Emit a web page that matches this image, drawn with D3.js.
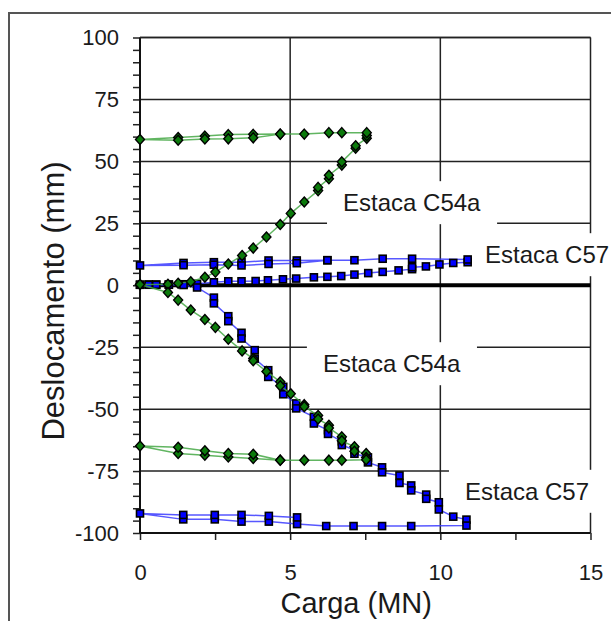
<!DOCTYPE html>
<html>
<head>
<meta charset="utf-8">
<script src="https://cdn.jsdelivr.net/npm/d3@7/dist/d3.min.js"></script>
<style>
  body { margin: 0; background: #fff; }
  text { font-family: "Liberation Sans", Arial, sans-serif; fill: #1a1a1a; }
</style>
</head>
<body>
<div id="chart"></div>
<script>
// load (MN) vs displacement (mm)
// top of pile (positive) and pile base (negative)
var c54aTop = [
  [0, 0.3], [0.93, 0.4], [1.27, 0.8], [1.69, 1.4], [2.16, 3.2], [2.51, 5.3], [2.94, 8.6],
  [3.40, 12.0], [3.77, 15.0], [4.21, 19.5], [4.67, 24.5], [5.02, 29.0], [5.47, 33.6],
  [5.93, 38.2], [5.93, 39.5], [6.29, 43.0], [6.29, 44.4], [6.72, 48.5], [6.72, 49.8],
  [7.18, 55.3], [7.18, 56.3], [7.55, 59.3], [7.55, 60.4], [7.55, 61.6],
  [6.72, 61.6], [6.29, 61.6], [5.47, 61.0], [4.67, 61.0], [3.77, 60.9], [2.94, 60.8],
  [2.16, 60.2], [1.27, 59.6], [0, 58.8],
  [1.27, 58.5], [2.16, 59.0], [2.94, 59.1], [3.77, 59.5], [4.67, 61.0]
];
var c54aBase = [
  [0, 0.3], [0.93, -2.9], [1.27, -6.0], [1.69, -10.0], [2.16, -13.8], [2.51, -17.0],
  [2.94, -21.8], [3.40, -26.5], [3.77, -29.6], [3.77, -30.5], [4.21, -34.8], [4.67, -39.0],
  [4.67, -40.6], [5.02, -43.8], [5.47, -48.2], [5.47, -49.0], [5.93, -52.6], [5.93, -54.0],
  [6.29, -56.5], [6.29, -57.6], [6.72, -61.2], [6.72, -62.8], [7.14, -65.2], [7.14, -67.0],
  [7.53, -67.9], [7.53, -69.5], [7.53, -70.4],
  [6.72, -70.6], [6.29, -70.6], [5.47, -70.6], [4.67, -70.6], [3.77, -69.9], [2.94, -69.3],
  [2.16, -68.6], [1.27, -67.9], [0, -64.9],
  [1.27, -65.4], [2.16, -66.8], [2.94, -67.9], [3.77, -68.2], [4.67, -70.6]
];
var c57Top = [
  [0, 0.2], [0.29, 0.3], [0.54, 0.3], [0.96, 0.3], [1.45, 0.4], [1.90, 0.6], [2.46, 1.2],
  [2.94, 1.6], [3.38, 1.6], [3.85, 1.7], [4.26, 2.0], [4.76, 2.4], [5.20, 2.7], [5.79, 3.2],
  [6.24, 3.4], [6.70, 3.7], [7.14, 4.3], [7.60, 4.9], [8.08, 5.4], [8.61, 6.0], [9.06, 6.5],
  [9.06, 7.3], [9.52, 7.6], [9.97, 8.4], [10.43, 9.0], [10.91, 9.3], [10.91, 10.4],
  [9.06, 10.7], [8.08, 10.7], [7.14, 10.1], [6.24, 10.1], [5.22, 10.0], [4.28, 10.0],
  [3.38, 9.3], [2.46, 9.3], [1.45, 9.0], [0, 8.0],
  [1.45, 8.1], [2.46, 8.3], [3.38, 8.0], [4.28, 8.6], [5.22, 8.9], [6.24, 10.1]
];
var c57Base = [
  [0, 0.2], [0.29, 0.2], [0.54, 0.2], [0.96, 0.2], [1.45, 0.1], [1.90, -0.9], [2.46, -5.0],
  [2.46, -7.3], [2.94, -12.5], [2.94, -14.5], [3.38, -19.2], [3.38, -21.5], [3.82, -26.2],
  [3.82, -29.6], [4.27, -34.3], [4.27, -37.0], [4.77, -41.0], [4.77, -44.0], [5.20, -47.7],
  [5.20, -49.7], [5.79, -53.1], [5.79, -55.8], [6.26, -58.5], [6.26, -60.0], [6.72, -63.0],
  [6.72, -64.5], [7.14, -66.5], [7.14, -68.0], [7.59, -69.5], [7.59, -71.5], [8.06, -73.5],
  [8.06, -75.5], [8.64, -76.8], [8.64, -79.8], [9.03, -80.8], [9.03, -82.8], [9.53, -84.5],
  [9.53, -86.2], [9.95, -87.6], [9.95, -90.5], [10.43, -93.4], [10.87, -94.6], [10.87, -97.0],
  [9.03, -97.2], [8.06, -97.2], [7.11, -97.2], [6.20, -97.2], [5.23, -96.4], [4.29, -95.4],
  [3.38, -95.4], [2.49, -94.5], [1.44, -94.5], [0, -92.1],
  [1.44, -92.7], [2.49, -92.7], [3.38, -92.7], [4.29, -93.1], [5.23, -93.7]
];

var xTicks = [0, 5, 10, 15];
var yTicks = [-100, -75, -50, -25, 0, 25, 50, 75, 100];
var labelNames = ["Estaca C54a", "Estaca C57", "Estaca C54a", "Estaca C57"];

var width = 611, height = 621;

const svg = d3
  .select("#chart")
  .append("svg")
  .attr("width", width)
  .attr("height", height);

const x = d3.scaleLinear().domain([0, 15]).range([140, 590.5]);
const y = d3.scaleLinear().domain([-100, 100]).range([533, 37.5]);

// outer frame
svg.append("rect")
  .attr("x", 9).attr("y", 13)
  .attr("width", 700).attr("height", 700)
  .attr("fill", "none")
  .attr("stroke", "#555")
  .attr("stroke-width", 2);

// grid
const grid = svg.append("g").attr("stroke", "#222").attr("stroke-width", 1.5);
grid.selectAll("line.v")
  .data([5, 10, 15])
  .join("line")
  .attr("class", "v")
  .attr("x1", (d) => x(d)).attr("x2", (d) => x(d))
  .attr("y1", y(100)).attr("y2", y(-100));
grid.selectAll("line.h")
  .data(yTicks.filter((d) => d !== 0 && d !== -100))
  .join("line")
  .attr("class", "h")
  .attr("x1", x(0)).attr("x2", x(15))
  .attr("y1", (d) => y(d)).attr("y2", (d) => y(d));

// axes: minor ticks
svg.append("g")
  .attr("transform", "translate(" + x(0) + ",0)")
  .call(d3.axisLeft(y).tickValues(d3.range(-100, 101, 5)).tickSize(7).tickFormat(""))
  .call((g) => g.select(".domain").remove())
  .selectAll("line").attr("stroke", "#222").attr("stroke-width", 1.5);

svg.append("g")
  .attr("transform", "translate(0," + y(-100) + ")")
  .call(d3.axisBottom(x).tickValues(d3.range(0, 15.1, 2.5)).tickSize(7).tickFormat(""))
  .call((g) => g.select(".domain").remove())
  .selectAll("line").attr("stroke", "#222").attr("stroke-width", 1.5);

// tick labels (plain hyphen for negatives, as in the original)
svg.append("g")
  .attr("transform", "translate(" + x(0) + ",0)")
  .call(d3.axisLeft(y).tickValues(yTicks).tickSize(0).tickPadding(21).tickFormat((d) => String(d)))
  .call((g) => g.select(".domain").remove())
  .selectAll("text")
  .style("font-size", "22px")
  .style("font-family", '"Liberation Sans", Arial, sans-serif')
  .attr("fill", "#1a1a1a");

svg.append("g")
  .attr("transform", "translate(0," + y(-100) + ")")
  .call(d3.axisBottom(x).tickValues(xTicks).tickSize(0).tickPadding(31).tickFormat((d) => String(d)))
  .call((g) => g.select(".domain").remove())
  .selectAll("text")
  .style("font-size", "22px")
  .style("font-family", '"Liberation Sans", Arial, sans-serif')
  .attr("fill", "#1a1a1a");

// axis lines
svg.append("line")
  .attr("x1", x(0)).attr("x2", x(0))
  .attr("y1", y(100)).attr("y2", y(-100))
  .attr("stroke", "#111").attr("stroke-width", 2);
svg.append("line")
  .attr("x1", x(0)).attr("x2", x(15))
  .attr("y1", y(-100)).attr("y2", y(-100))
  .attr("stroke", "#111").attr("stroke-width", 2);
svg.append("line")
  .attr("x1", x(0)).attr("x2", x(15))
  .attr("y1", y(100)).attr("y2", y(100))
  .attr("stroke", "#222").attr("stroke-width", 1.5);
// heavy zero line
svg.append("line")
  .attr("x1", x(0)).attr("x2", x(15))
  .attr("y1", y(0)).attr("y2", y(0))
  .attr("stroke", "#000").attr("stroke-width", 4);

// labels with white boxes over the grid
var labelPos = [[6.76, 29.9], [11.49, 8.9], [6.09, -35.1], [10.82, -86.6]];
const labelG = svg.append("g");
labelNames.forEach(function (name, i) {
  const t = labelG.append("text")
    .attr("x", x(labelPos[i][0]))
    .attr("y", y(labelPos[i][1]))
    .style("font-size", "24px")
    .text(name);
  const b = t.node().getBBox();
  labelG.insert("rect", "text")
    .attr("x", b.x - 16).attr("y", b.y - 8)
    .attr("width", b.width + 32).attr("height", b.height + 16)
    .attr("fill", "#fff");
});

// series
const line = d3.line().x((d) => x(d[0])).y((d) => y(d[1]));
const plot = svg.append("g");

function drawSeries(data, colour, lineColour, shape) {
  plot.append("path")
    .datum(data)
    .attr("d", line)
    .attr("fill", "none")
    .attr("stroke", lineColour)
    .attr("stroke-width", 1.5)
    .attr("opacity", 0.85);

  if (shape === "square") {
    plot.append("g")
      .selectAll("rect")
      .data(data)
      .join("rect")
      .attr("x", (d) => x(d[0]) - 3.5)
      .attr("y", (d) => y(d[1]) - 3.5)
      .attr("width", 7).attr("height", 7)
      .attr("fill", colour)
      .attr("stroke", "#000")
      .attr("stroke-width", 1.6);
  } else {
    plot.append("g")
      .selectAll("path")
      .data(data)
      .join("path")
      .attr("d", "M0,-5L4.5,0L0,5L-4.5,0Z")
      .attr("transform", (d) => "translate(" + x(d[0]) + "," + y(d[1]) + ")")
      .attr("fill", colour)
      .attr("stroke", "#000")
      .attr("stroke-width", 1.4);
  }
}

drawSeries(c57Top, "#0000ff", "#3a3aff", "square");
drawSeries(c57Base, "#0000ff", "#3a3aff", "square");
drawSeries(c54aTop, "#0b7a0b", "#45a845", "diamond");
drawSeries(c54aBase, "#0b7a0b", "#45a845", "diamond");

// axis titles
svg.append("text")
  .attr("x", (x(0) + x(15)) / 2 - 9)
  .attr("y", 613)
  .attr("text-anchor", "middle")
  .style("font-size", "29px")
  .text("Carga (MN)");

svg.append("text")
  .attr("transform", "translate(64,301) rotate(-90)")
  .attr("text-anchor", "middle")
  .style("font-size", "31px")
  .text("Deslocamento (mm)");
</script>
</body>
</html>
